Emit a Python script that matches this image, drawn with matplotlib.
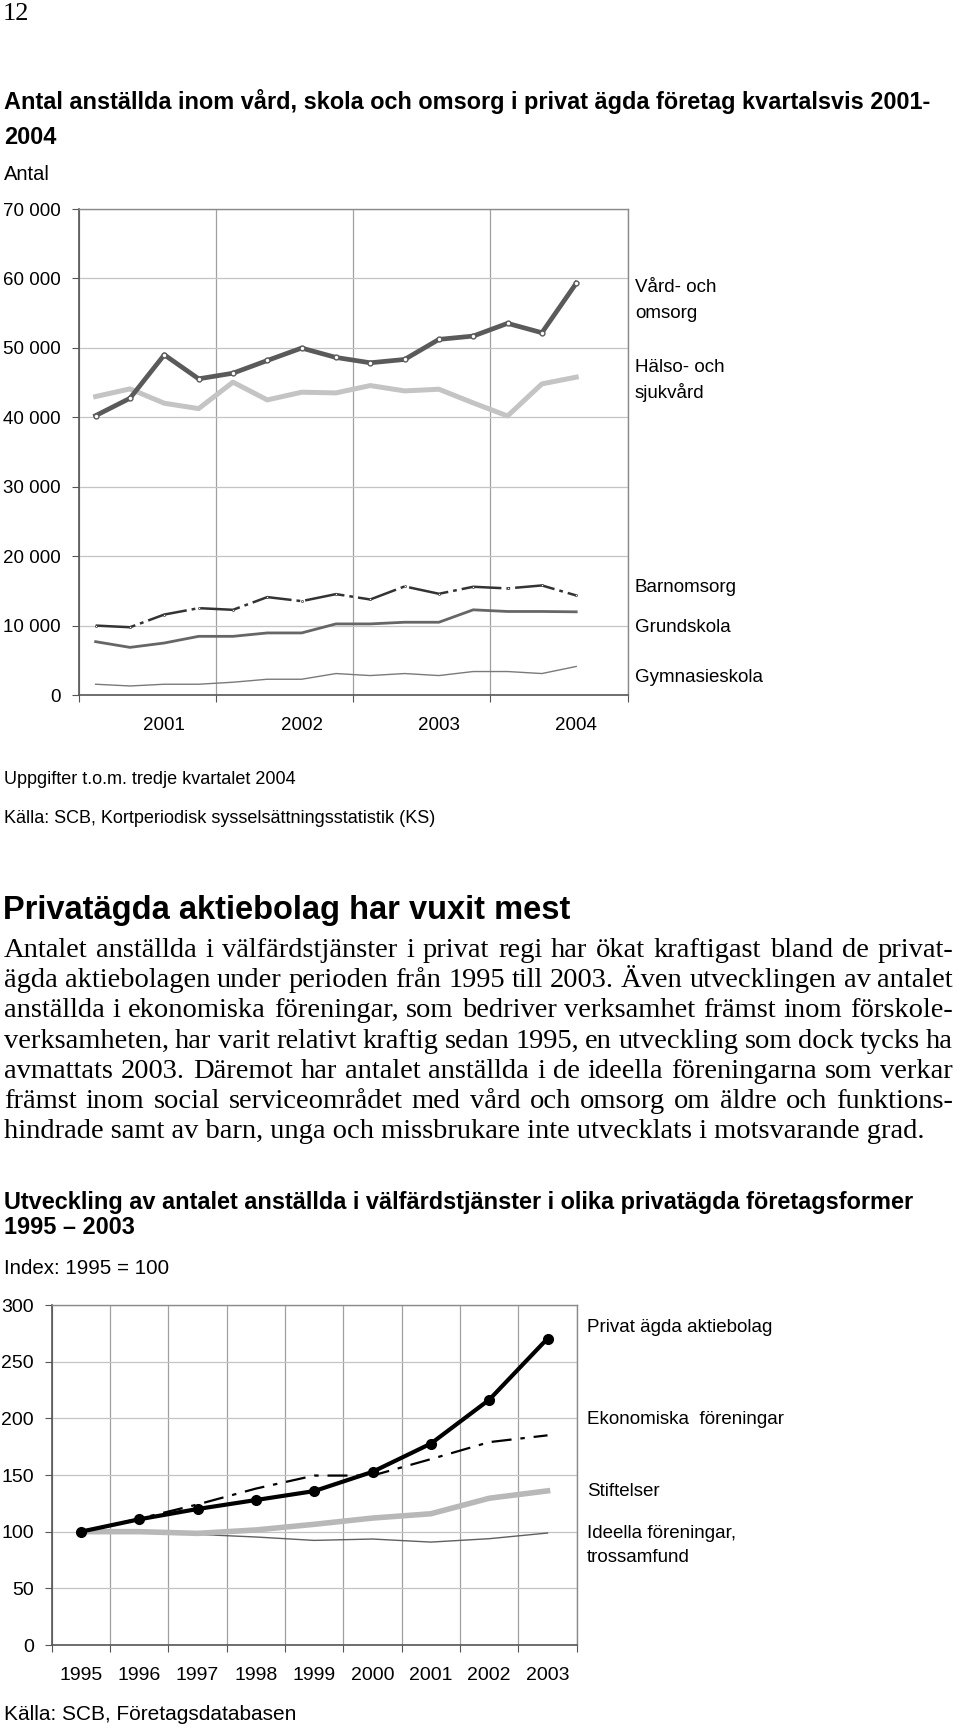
import matplotlib
matplotlib.use('Agg')
import matplotlib.pyplot as plt

W, H = 960, 1730

# Chart 1: quarterly values 2001 Q1 - 2004 Q3
quarters = list(range(15))
top_years = ['2001', '2002', '2003', '2004']
vard_omsorg = [40240, 42740, 49000, 45540, 46350, 48180, 49970, 48620, 47850,
               48330, 51220, 51700, 53530, 52180, 59300]
halso_sjukvard = [42990, 44090, 42020, 41250, 45060, 42500, 43610, 43510, 44570,
                  43800, 44040, 42070, 40190, 44810, 45780]
barnomsorg = [10000, 9760, 11590, 12510, 12270, 14100, 13520, 14530, 13760,
              15640, 14580, 15590, 15350, 15780, 14340]
grundskola = [7680, 6860, 7490, 8450, 8450, 8940, 8940, 10240, 10240,
              10480, 10480, 12270, 12030, 12030, 11980]
gymnasieskola = [1550, 1300, 1550, 1550, 1840, 2270, 2270, 3090, 2800,
                 3090, 2800, 3380, 3380, 3090, 4110]

# Chart 2: index 1995 = 100
years = ['1995', '1996', '1997', '1998', '1999', '2000', '2001', '2002', '2003']
privat_ab = [100, 110.9, 120, 127.9, 135.8, 152.8, 177.7, 216.4, 270.4]
ekonomiska = [100, 111.5, 124, 138, 149.5, 149.5, 164, 179, 185]
stiftelser = [100, 100, 98.5, 101.5, 106.5, 112, 115.8, 129.5, 136]
ideella = [100, 99, 97.6, 95.3, 92.3, 93.5, 90.8, 93.8, 98.8]

SANS = 'Liberation Sans'
SERIF = 'Liberation Serif'


def fy(y):
    return 1 - y / H


def fig_text(x, y, s, **kw):
    kw.setdefault('family', SANS)
    kw.setdefault('va', 'center')
    return fig.text(x / W, fy(y), s, **kw)


def style_axes(ax, ylim, yticks, ylabels, bounds, centers, xlabels, fs):
    ax.set_ylim(*ylim)
    ax.set_xlim(bounds[0], bounds[-1])
    ax.set_yticks(yticks)
    ax.set_yticklabels(ylabels, family=SANS, fontsize=fs)
    ax.set_xticks(bounds)
    ax.set_xticklabels([])
    ax.set_xticks(centers, minor=True)
    ax.set_xticklabels(xlabels, minor=True, family=SANS, fontsize=fs)
    ax.tick_params(axis='y', length=5, width=0.8, color='#555555', pad=8)
    ax.tick_params(axis='x', which='major', length=5, width=0.8, color='#555555')
    ax.tick_params(axis='x', which='minor', length=0, pad=16)
    ax.grid(axis='y', color='#c4c4c4', lw=0.9)
    ax.grid(axis='x', which='major', color='#a0a0a0', lw=0.9)
    ax.set_axisbelow(True)
    for side in ['top', 'right']:
        ax.spines[side].set_color('#8a8a8a')
        ax.spines[side].set_linewidth(1.0)
    for side in ['left', 'bottom']:
        ax.spines[side].set_color('#555555')
        ax.spines[side].set_linewidth(1.2)


fig = plt.figure(figsize=(W / 100, H / 100), dpi=100)

# page number and chart 1 headings
fig_text(3, 14, '12', family=SERIF, fontsize=19)
fig_text(4, 101, 'Antal anställda inom vård, skola och omsorg i privat ägda företag kvartalsvis 2001-',
         fontsize=16.9, fontweight='bold')
fig_text(4, 138, '2004', fontsize=16.9, fontweight='bold')
fig_text(4, 174, 'Antal', fontsize=14.5)

# chart 1
ax1 = fig.add_axes([78.5 / W, fy(695), 549.2 / W, 486 / H])
ax1.plot(quarters, halso_sjukvard, color='#c4c4c4', lw=3.6)
ax1.plot(quarters, vard_omsorg, color='#5a5a5a', lw=3.4, marker='o', ms=3.5,
         mfc='white', mec='#5a5a5a', mew=1.0)
ax1.plot(quarters, gymnasieskola, color='#7a7a7a', lw=1.0)
ax1.plot(quarters, grundskola, color='#666666', lw=2.0)
ax1.plot(quarters, barnomsorg, color='#333333', lw=1.8, dashes=(16, 2, 1.5, 2),
         marker='o', ms=1.5, mfc='white', mec='#333333', mew=0.5)
style_axes(ax1, (0, 70000), range(0, 70001, 10000),
           [f'{v:,}'.replace(',', ' ') for v in range(0, 70001, 10000)],
           [-0.5, 3.5, 7.5, 11.5, 15.5], [2, 6, 10, 14], top_years, 13.5)

top_legend = [(288, 'Vård- och'), (313, 'omsorg'), (367, 'Hälso- och'), (392, 'sjukvård'),
              (588, 'Barnomsorg'), (628, 'Grundskola'), (677, 'Gymnasieskola')]
for y, s in top_legend:
    fig_text(635, y, s, fontsize=13.5)

fig_text(4, 779, 'Uppgifter t.o.m. tredje kvartalet 2004', fontsize=13)
fig_text(4, 818, 'Källa: SCB, Kortperiodisk sysselsättningsstatistik (KS)', fontsize=13)

# body text
fig_text(3, 910, 'Privatägda aktiebolag har vuxit mest', fontsize=23.5, fontweight='bold')
body = [
    'Antalet anställda i välfärdstjänster i privat regi har ökat kraftigast bland de privat-',
    'ägda aktiebolagen under perioden från 1995 till 2003. Även utvecklingen av antalet',
    'anställda i ekonomiska föreningar, som bedriver verksamhet främst inom förskole-',
    'verksamheten, har varit relativt kraftig sedan 1995, en utveckling som dock tycks ha',
    'avmattats 2003. Däremot har antalet anställda i de ideella föreningarna som verkar',
    'främst inom social serviceområdet med vård och omsorg om äldre och funktions-',
    'hindrade samt av barn, unga och missbrukare inte utvecklats i motsvarande grad.',
]
renderer = fig.canvas.get_renderer()
x0, x1 = 4, 953
for i, line in enumerate(body):
    y = 950 + i * 30.2 + 7
    if i == len(body) - 1:
        fig_text(x0, y, line, family=SERIF, fontsize=20.5, va='baseline')
        continue
    words = line.split(' ')
    texts = [fig_text(x0, y, w, family=SERIF, fontsize=20.5, va='baseline') for w in words]
    widths = [t.get_window_extent(renderer).width for t in texts]
    gap = (x1 - x0 - sum(widths)) / (len(words) - 1)
    x = x0
    for t, w in zip(texts, widths):
        t.set_x(x / W)
        x += w + gap

# chart 2 headings
fig_text(4, 1202, 'Utveckling av antalet anställda i välfärdstjänster i olika privatägda företagsformer',
         fontsize=16.9, fontweight='bold')
fig_text(4, 1228, '1995 – 2003', fontsize=16.9, fontweight='bold')
fig_text(4, 1269, 'Index: 1995 = 100', fontsize=14.8)

# chart 2
ax2 = fig.add_axes([51.7 / W, fy(1645), 525 / W, 340 / H])
xs = list(range(len(years)))
ax2.plot(xs, ideella, color='#606060', lw=1.0)
ax2.plot(xs, stiftelser, color='#b8b8b8', lw=4.0)
ax2.plot(xs, ekonomiska, color='black', lw=1.6, dashes=(9, 4, 2, 4))
ax2.plot(xs, privat_ab, color='black', lw=3.0, marker='o', ms=7, mfc='black', mec='black')
style_axes(ax2, (0, 300), range(0, 301, 50), [str(v) for v in range(0, 301, 50)],
           [i - 0.5 for i in range(len(years) + 1)], xs, years, 14)

bottom_legend = [(1327, 'Privat ägda aktiebolag'), (1420, 'Ekonomiska  föreningar'),
                 (1491, 'Stiftelser'), (1533, 'Ideella föreningar,'), (1557, 'trossamfund')]
for y, s in bottom_legend:
    fig_text(587, y, s, fontsize=13.5)

fig_text(4, 1715, 'Källa: SCB, Företagsdatabasen', fontsize=15)

fig.savefig('out.png', dpi=100)
